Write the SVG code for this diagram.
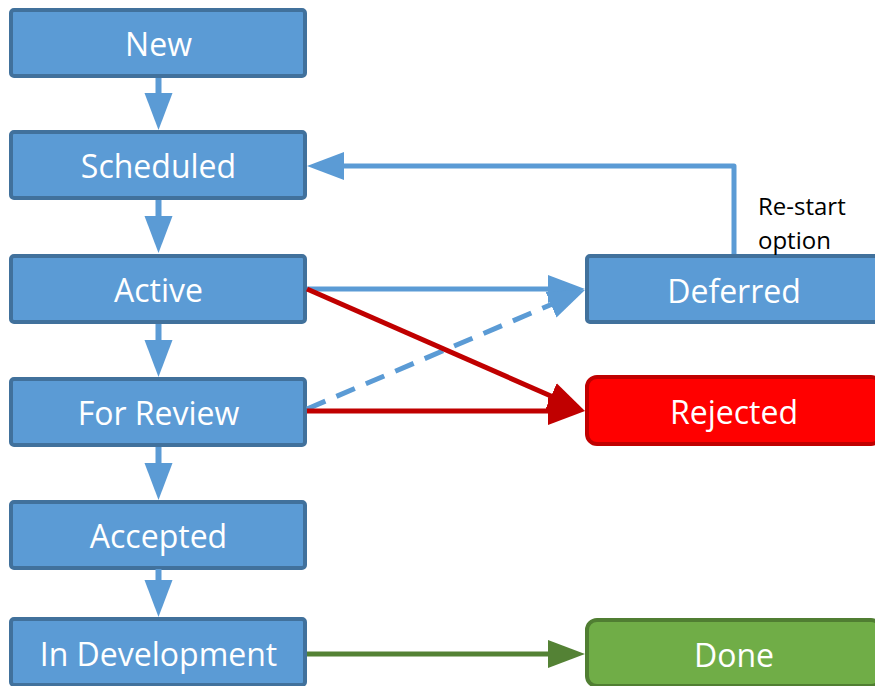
<svg xmlns="http://www.w3.org/2000/svg" width="875" height="686" viewBox="0 0 875 686">
  <style>
    .blue { fill: #5B9BD5; stroke: #41719C; stroke-width: 4; }
    .red { fill: #FF0000; stroke: #C00000; stroke-width: 4; }
    .green { fill: #70AD47; stroke: #507E32; stroke-width: 4; }
    .lbl { font-family: "Open Sans", "Liberation Sans", sans-serif; font-size: 32px; fill: #FFFFFF; text-anchor: middle; }
    .note { font-family: "Open Sans", "Liberation Sans", sans-serif; font-size: 24px; fill: #000000; }
    .cb { fill: none; stroke: #5B9BD5; stroke-width: 5; }
    .cr { fill: none; stroke: #C00000; stroke-width: 5; }
    .cg { fill: none; stroke: #548235; stroke-width: 5; }
  </style>
  <defs>
    <marker id="ahB" viewBox="0 -15 37 30" refX="1" refY="0" markerWidth="37" markerHeight="30" markerUnits="userSpaceOnUse" orient="auto">
      <path d="M0,-14 L37,0 L0,14 Z" fill="#5B9BD5"/>
    </marker>
    <marker id="ahR" viewBox="0 -15 37 30" refX="1" refY="0" markerWidth="37" markerHeight="30" markerUnits="userSpaceOnUse" orient="auto">
      <path d="M0,-14 L37,0 L0,14 Z" fill="#C00000"/>
    </marker>
    <marker id="ahG" viewBox="0 -15 37 30" refX="1" refY="0" markerWidth="37" markerHeight="30" markerUnits="userSpaceOnUse" orient="auto">
      <path d="M0,-14 L37,0 L0,14 Z" fill="#548235"/>
    </marker>
  </defs>

  <g id="node-new">
    <rect class="blue" x="11" y="10" width="294" height="66" rx="3"/>
    <text class="lbl" x="158.5" y="56">New</text>
  </g>
  <g id="node-scheduled">
    <rect class="blue" x="11" y="132" width="294" height="66" rx="3"/>
    <text class="lbl" x="158.5" y="178">Scheduled</text>
  </g>
  <g id="node-active">
    <rect class="blue" x="11" y="256" width="294" height="66" rx="3"/>
    <text class="lbl" x="158.5" y="302">Active</text>
  </g>
  <g id="node-forreview">
    <rect class="blue" x="11" y="379" width="294" height="66" rx="3"/>
    <text class="lbl" x="158.5" y="425">For Review</text>
  </g>
  <g id="node-accepted">
    <rect class="blue" x="11" y="502" width="294" height="66" rx="3"/>
    <text class="lbl" x="158.5" y="548">Accepted</text>
  </g>
  <g id="node-indevelopment">
    <rect class="blue" x="11" y="619" width="294" height="66" rx="3"/>
    <text class="lbl" x="158.5" y="666">In Development</text>
  </g>
  <g id="node-deferred">
    <rect class="blue" x="587" y="256" width="294" height="66" rx="3"/>
    <text class="lbl" x="734" y="303">Deferred</text>
  </g>
  <g id="node-rejected">
    <rect class="red" x="587" y="377" width="294" height="67" rx="10"/>
    <text class="lbl" x="734" y="424">Rejected</text>
  </g>
  <g id="node-done">
    <rect class="green" x="587" y="620" width="294" height="66" rx="10"/>
    <text class="lbl" x="734" y="667">Done</text>
  </g>

  <g id="connectors">
    <line class="cb" style="stroke-width:6" x1="158.5" y1="78" x2="158.5" y2="94" marker-end="url(#ahB)"/>
    <line class="cb" style="stroke-width:6" x1="158.5" y1="200" x2="158.5" y2="217" marker-end="url(#ahB)"/>
    <line class="cb" style="stroke-width:6" x1="158.5" y1="324" x2="158.5" y2="341" marker-end="url(#ahB)"/>
    <line class="cb" style="stroke-width:6" x1="158.5" y1="447" x2="158.5" y2="464" marker-end="url(#ahB)"/>
    <line class="cb" style="stroke-width:6" x1="158.5" y1="569" x2="158.5" y2="581" marker-end="url(#ahB)"/>
    <path class="cb" d="M734,254 L734,166 L343,166" stroke-linejoin="round" marker-end="url(#ahB)"/>
    <line class="cb" x1="307" y1="289" x2="549" y2="289" marker-end="url(#ahB)"/>
    <line class="cb" x1="307" y1="409" x2="551.9" y2="304.2" stroke-dasharray="20 12" marker-end="url(#ahB)"/>
    <line class="cr" x1="307" y1="289" x2="552" y2="396.5" marker-end="url(#ahR)"/>
    <line class="cr" x1="307" y1="411" x2="549" y2="411" marker-end="url(#ahR)"/>
    <line class="cg" x1="307" y1="654" x2="549" y2="654" marker-end="url(#ahG)"/>
  </g>

  <text class="note" x="758" y="215">Re-start</text>
  <text class="note" x="758" y="249">option</text>
</svg>
